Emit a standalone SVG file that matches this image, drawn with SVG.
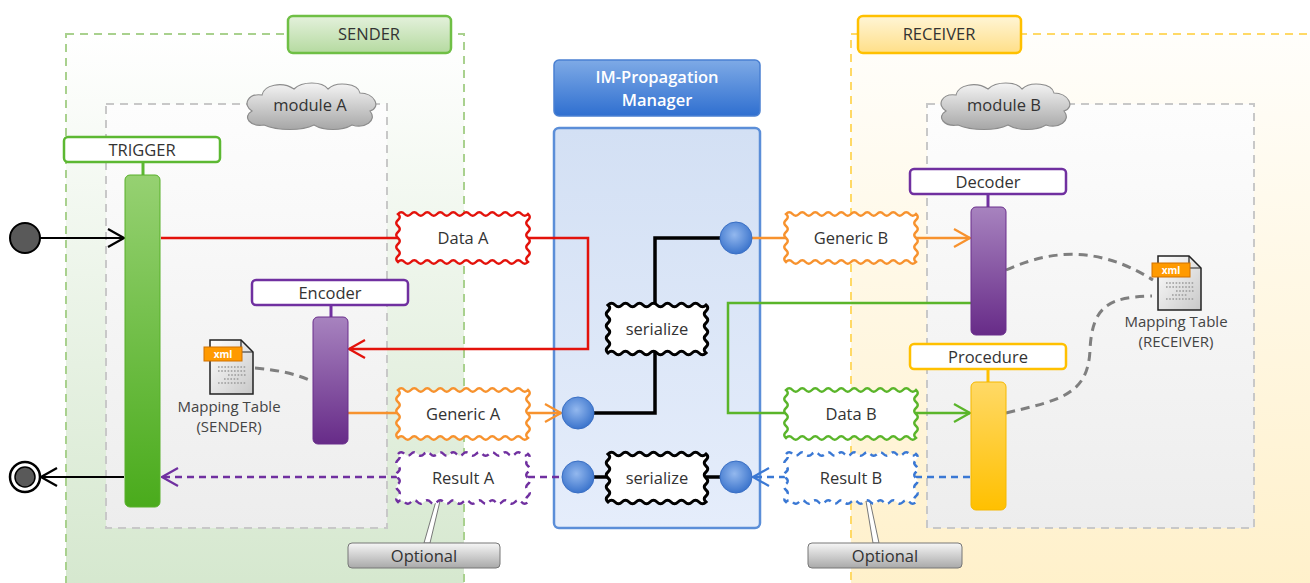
<svg xmlns="http://www.w3.org/2000/svg" width="1310" height="583" viewBox="0 0 1310 583">
<style>
text{font-family:"Open Sans","Noto Sans","Liberation Sans",sans-serif;font-size:16.5px;fill:#333;text-anchor:middle}
.lbl{fill:#fff;stroke-width:2.5}
.wv{fill:#fff;stroke-width:2.5}
.ln{fill:none;stroke-width:2.5}
.dash{stroke-dasharray:7 5}
.map{fill:none;stroke:#7f7f7f;stroke-width:3;stroke-dasharray:9 6}
.small{font-size:15px;fill:#444}
</style>
<defs>
<linearGradient id="gSender" x1="0" y1="0" x2="0" y2="1"><stop offset="0" stop-color="#ffffff"/><stop offset="1" stop-color="#d4e7cd"/></linearGradient>
<linearGradient id="gRecv" x1="0" y1="0" x2="0" y2="1"><stop offset="0" stop-color="#fffefb"/><stop offset="1" stop-color="#fff0c9"/></linearGradient>
<linearGradient id="gMod" x1="0" y1="0" x2="0" y2="1"><stop offset="0" stop-color="#fdfdfd"/><stop offset="1" stop-color="#ededed"/></linearGradient>
<linearGradient id="gSTab" x1="0" y1="0" x2="0" y2="1"><stop offset="0" stop-color="#e4f1dc"/><stop offset="1" stop-color="#b5daa0"/></linearGradient>
<linearGradient id="gRTab" x1="0" y1="0" x2="0" y2="1"><stop offset="0" stop-color="#fff5d6"/><stop offset="1" stop-color="#ffdf88"/></linearGradient>
<linearGradient id="gCloud" x1="0" y1="0" x2="0" y2="1"><stop offset="0" stop-color="#f4f4f4"/><stop offset="1" stop-color="#a6a6a6"/></linearGradient>
<linearGradient id="gTitle" x1="0" y1="0" x2="0" y2="1"><stop offset="0" stop-color="#7eaae6"/><stop offset="1" stop-color="#2f6fd0"/></linearGradient>
<linearGradient id="gMgr" x1="0" y1="0" x2="0" y2="1"><stop offset="0" stop-color="#d3e0f4"/><stop offset="1" stop-color="#e5edfb"/></linearGradient>
<linearGradient id="gGreen" x1="0" y1="0" x2="0" y2="1"><stop offset="0" stop-color="#96d172"/><stop offset="1" stop-color="#4aab1c"/></linearGradient>
<linearGradient id="gPurple" x1="0" y1="0" x2="0" y2="1"><stop offset="0" stop-color="#a783bf"/><stop offset="1" stop-color="#672b88"/></linearGradient>
<linearGradient id="gYellow" x1="0" y1="0" x2="0" y2="1"><stop offset="0" stop-color="#ffd966"/><stop offset="1" stop-color="#ffc000"/></linearGradient>
<linearGradient id="gOpt" x1="0" y1="0" x2="0" y2="1"><stop offset="0" stop-color="#f6f6f6"/><stop offset="1" stop-color="#a9a9a9"/></linearGradient>
<linearGradient id="gPage" x1="0" y1="0" x2="1" y2="1"><stop offset="0" stop-color="#ffffff"/><stop offset="1" stop-color="#c8c8c8"/></linearGradient>
<radialGradient id="gDot" cx="0.45" cy="0.4" r="0.6"><stop offset="0" stop-color="#93b8ee"/><stop offset="1" stop-color="#3b74cc"/></radialGradient>
<path id="wave" d="M0,0 q3.25,-3.5 6.5,0 t6.5,0 t6.5,0 t6.5,0 t6.5,0 t6.5,0 t6.5,0 t6.5,0 t6.5,0 t6.5,0 t6.5,0 t6.5,0 t6.5,0 t6.5,0 t6.5,0 t6.5,0 t6.5,0 t6.5,0 t6.5,0 t6.5,0 q3.5,3 0,6 t0,6 t0,6 t0,6 t0,6 t0,6 t0,6 t0,6 q-3.25,3.5 -6.5,0 t-6.5,0 t-6.5,0 t-6.5,0 t-6.5,0 t-6.5,0 t-6.5,0 t-6.5,0 t-6.5,0 t-6.5,0 t-6.5,0 t-6.5,0 t-6.5,0 t-6.5,0 t-6.5,0 t-6.5,0 t-6.5,0 t-6.5,0 t-6.5,0 t-6.5,0 q-3.5,-3 0,-6 t0,-6 t0,-6 t0,-6 t0,-6 t0,-6 t0,-6 t0,-6 z"/>
<path id="waveS" d="M0,0 q3.5,-3.5 7,0 t7,0 t7,0 t7,0 t7,0 t7,0 t7,0 t7,0 t7,0 t7,0 t7,0 t7,0 t7,0 t7,0 q3.5,3 0,6 t0,6 t0,6 t0,6 t0,6 t0,6 t0,6 t0,6 q-3.5,3.5 -7,0 t-7,0 t-7,0 t-7,0 t-7,0 t-7,0 t-7,0 t-7,0 t-7,0 t-7,0 t-7,0 t-7,0 t-7,0 t-7,0 q-3.5,-3 0,-6 t0,-6 t0,-6 t0,-6 t0,-6 t0,-6 t0,-6 t0,-6 z"/>
<path id="cloud" d="M22,44 C8,46 0,36 10,30 C0,24 6,12 20,14 C22,4 40,0 52,8 C60,0 80,0 86,8 C94,0 116,2 118,12 C132,12 140,26 128,30 C136,40 122,48 110,44 C100,50 82,50 72,44 C60,50 36,50 22,44 Z"/>
<g id="xmldoc">
<path d="M0,0 H31 L43,12 V54 H0 Z" fill="url(#gPage)" stroke="#222" stroke-width="1.5"/>
<path d="M31,0 V12 H43" fill="none" stroke="#222" stroke-width="1.2"/>
<rect x="-6" y="7" width="38" height="14" fill="#ff9a00" stroke="#d07000" stroke-width="1"/>
<text x="13" y="18" style="font-size:10px;font-weight:bold;fill:#fff">xml</text>
<g stroke="#9a9a9a" stroke-width="1.6" stroke-dasharray="1.6 1.6">
<line x1="8" y1="27" x2="36" y2="27"/><line x1="8" y1="31" x2="36" y2="31"/><line x1="18" y1="35" x2="36" y2="35"/><line x1="14" y1="39" x2="30" y2="39"/><line x1="8" y1="43" x2="36" y2="43"/>
</g>
</g>
<marker id="aBlack" viewBox="0 0 18 20" refX="17" refY="10" markerWidth="18" markerHeight="20" markerUnits="userSpaceOnUse" orient="auto"><path d="M1,1 L17,10 L1,19" fill="none" stroke="#000" stroke-width="2.2"/></marker>
<marker id="aRed" viewBox="0 0 18 20" refX="17" refY="10" markerWidth="18" markerHeight="20" markerUnits="userSpaceOnUse" orient="auto"><path d="M1,1 L17,10 L1,19" fill="none" stroke="#e3120b" stroke-width="2.2"/></marker>
<marker id="aOrange" viewBox="0 0 18 20" refX="17" refY="10" markerWidth="18" markerHeight="20" markerUnits="userSpaceOnUse" orient="auto"><path d="M1,1 L17,10 L1,19" fill="none" stroke="#f7922e" stroke-width="2.2"/></marker>
<marker id="aGreen" viewBox="0 0 18 20" refX="17" refY="10" markerWidth="18" markerHeight="20" markerUnits="userSpaceOnUse" orient="auto"><path d="M1,1 L17,10 L1,19" fill="none" stroke="#5ab52a" stroke-width="2.2"/></marker>
<marker id="aPurple" viewBox="0 0 18 20" refX="17" refY="10" markerWidth="18" markerHeight="20" markerUnits="userSpaceOnUse" orient="auto"><path d="M1,1 L17,10 L1,19" fill="none" stroke="#7030a0" stroke-width="2.2"/></marker>
<marker id="aBlue" viewBox="0 0 18 20" refX="17" refY="10" markerWidth="18" markerHeight="20" markerUnits="userSpaceOnUse" orient="auto"><path d="M1,1 L17,10 L1,19" fill="none" stroke="#3a78d4" stroke-width="2.2"/></marker>
</defs>

<rect width="1310" height="583" fill="#fff"/>

<!-- containers -->
<g id="sender">
<rect x="66" y="34" width="398" height="570" fill="url(#gSender)" stroke="#a9d18e" stroke-width="2" stroke-dasharray="8 6"/>
<rect x="288" y="16" width="163" height="37" rx="5" fill="url(#gSTab)" stroke="#6fbf45" stroke-width="2.5"/>
<text x="369" y="40">SENDER</text>
</g>
<g id="receiver">
<rect x="851" y="34" width="480" height="570" fill="url(#gRecv)" stroke="#ffd966" stroke-width="2" stroke-dasharray="8 6"/>
<rect x="858" y="16" width="163" height="37" rx="5" fill="url(#gRTab)" stroke="#ffc000" stroke-width="2.5"/>
<text x="939" y="40">RECEIVER</text>
</g>
<g id="moduleA">
<rect x="106" y="104" width="281" height="424" fill="url(#gMod)" stroke="#c8c8c8" stroke-width="2" stroke-dasharray="8 6"/>
<use href="#cloud" x="242" y="81" fill="url(#gCloud)" stroke="#8c8c8c" stroke-width="1.2"/>
<text x="310" y="111">module A</text>
</g>
<g id="moduleB">
<rect x="927" y="104" width="327" height="424" fill="url(#gMod)" stroke="#c8c8c8" stroke-width="2" stroke-dasharray="8 6"/>
<use href="#cloud" x="936" y="81" fill="url(#gCloud)" stroke="#8c8c8c" stroke-width="1.2"/>
<text x="1004" y="111">module B</text>
</g>
<g id="manager">
<rect x="554" y="60" width="206" height="56" rx="5" fill="url(#gTitle)" stroke="#4a80d2" stroke-width="1.5"/>
<text x="657" y="83" style="fill:#fff;font-weight:600">IM-Propagation</text>
<text x="657" y="106" style="fill:#fff;font-weight:600">Manager</text>
<rect x="554" y="128" width="206" height="400" rx="5" fill="url(#gMgr)" stroke="#5b8ed8" stroke-width="2.5"/>
</g>

<!-- connectors -->
<g id="connectors">
<path class="map" d="M255,368 C280,370 300,375 313,382"/>
<path class="map" d="M1006,270 C1040,255 1090,240 1153,280"/>
<path class="map" d="M1006,413 C1060,400 1088,395 1090,350 C1092,305 1110,297 1152,296"/>
<line x1="40" y1="238" x2="124" y2="238" stroke="#000" stroke-width="2" marker-end="url(#aBlack)"/>
<line x1="124" y1="477" x2="41" y2="477" stroke="#000" stroke-width="2" marker-end="url(#aBlack)"/>
<line class="ln" x1="161" y1="238" x2="398" y2="238" stroke="#e3120b"/>
<polyline class="ln" points="528,238 588,238 588,349 349,349" stroke="#e3120b" marker-end="url(#aRed)"/>
<line class="ln" x1="348" y1="413" x2="398" y2="413" stroke="#f7922e"/>
<line class="ln" x1="528" y1="413" x2="561" y2="413" stroke="#f7922e" marker-end="url(#aOrange)"/>
<line class="ln" x1="752" y1="238" x2="786" y2="238" stroke="#f7922e"/>
<line class="ln" x1="916" y1="238" x2="970" y2="238" stroke="#f7922e" marker-end="url(#aOrange)"/>
<polyline class="ln" points="971,303 728,303 728,413 786,413" stroke="#5ab52a"/>
<line class="ln" x1="916" y1="413" x2="970" y2="413" stroke="#5ab52a" marker-end="url(#aGreen)"/>
<line class="ln dash" x1="398" y1="477" x2="162" y2="477" stroke="#7030a0" marker-end="url(#aPurple)"/>
<line class="ln dash" x1="528" y1="477" x2="562" y2="477" stroke="#7030a0"/>
<line class="ln dash" x1="970" y1="477" x2="916" y2="477" stroke="#3a78d4"/>
<line class="ln dash" x1="786" y1="477" x2="753" y2="477" stroke="#3a78d4" marker-end="url(#aBlue)"/>
<polyline points="720,238 655,238 655,305" fill="none" stroke="#000" stroke-width="3.5"/>
<polyline points="655,352 655,413 594,413" fill="none" stroke="#000" stroke-width="3.5"/>
<line x1="594" y1="477" x2="608" y2="477" stroke="#000" stroke-width="3.5"/>
<line x1="706" y1="477" x2="720" y2="477" stroke="#000" stroke-width="3.5"/>
<line x1="143" y1="162" x2="143" y2="182" stroke="#5cb832" stroke-width="3"/>
<line x1="331" y1="305" x2="331" y2="324" stroke="#7030a0" stroke-width="3"/>
<line x1="988" y1="194" x2="988" y2="214" stroke="#7030a0" stroke-width="3"/>
<line x1="988" y1="369" x2="988" y2="390" stroke="#ffc000" stroke-width="3"/>
<polygon points="424,543 430,543 440,501 436,501" fill="#fff" stroke="#777" stroke-width="1"/>
<polygon points="873,543 879,543 870,501 866,501" fill="#fff" stroke="#777" stroke-width="1"/>
</g>

<!-- terminals -->
<g id="start"><circle cx="25" cy="238" r="15" fill="#595959" stroke="#000" stroke-width="2"/></g>
<g id="end"><circle cx="25" cy="477" r="15" fill="#fff" stroke="#000" stroke-width="2.5"/><circle cx="25" cy="477" r="10" fill="#595959" stroke="#000" stroke-width="1.5"/></g>

<!-- bars and labels -->
<g id="trigger">
<rect x="125" y="175" width="35" height="332" rx="5" fill="url(#gGreen)" stroke="#58b02a" stroke-width="1"/>
<rect x="64" y="137" width="156" height="25" rx="4" class="lbl" stroke="#5cb832"/>
<text x="142" y="156">TRIGGER</text>
</g>
<g id="encoder">
<rect x="313" y="317" width="35" height="127" rx="5" fill="url(#gPurple)" stroke="#6a2e8c" stroke-width="1"/>
<rect x="252" y="280" width="156" height="25" rx="4" class="lbl" stroke="#7030a0"/>
<text x="330" y="299">Encoder</text>
</g>
<g id="decoder">
<rect x="971" y="207" width="35" height="128" rx="5" fill="url(#gPurple)" stroke="#6a2e8c" stroke-width="1"/>
<rect x="910" y="169" width="156" height="25" rx="4" class="lbl" stroke="#7030a0"/>
<text x="988" y="188">Decoder</text>
</g>
<g id="procedure">
<rect x="971" y="382" width="35" height="128" rx="5" fill="url(#gYellow)" stroke="#f5b800" stroke-width="1"/>
<rect x="910" y="344" width="156" height="25" rx="4" class="lbl" stroke="#ffc000"/>
<text x="988" y="363">Procedure</text>
</g>

<!-- data boxes -->
<g id="dataA"><use href="#wave" x="398" y="214" class="wv" stroke="#e3120b"/><text x="463" y="244">Data A</text></g>
<g id="genericA"><use href="#wave" x="398" y="390" class="wv" stroke="#f7922e"/><text x="463" y="420">Generic A</text></g>
<g id="resultA"><use href="#wave" x="398" y="454" class="wv dash" stroke="#7030a0"/><text x="463" y="484">Result A</text></g>
<g id="genericB"><use href="#wave" x="786" y="214" class="wv" stroke="#f7922e"/><text x="851" y="244">Generic B</text></g>
<g id="dataB"><use href="#wave" x="786" y="390" class="wv" stroke="#5ab52a"/><text x="851" y="420">Data B</text></g>
<g id="resultB"><use href="#wave" x="786" y="454" class="wv dash" stroke="#3a78d4"/><text x="851" y="484">Result B</text></g>
<g id="serialize1"><use href="#waveS" x="608" y="305" class="wv" stroke="#000" style="stroke-width:3"/><text x="657" y="335">serialize</text></g>
<g id="serialize2"><use href="#waveS" x="608" y="454" class="wv" stroke="#000" style="stroke-width:3"/><text x="657" y="484">serialize</text></g>

<!-- ports -->
<g id="ports" fill="url(#gDot)" stroke="#3a6fc4" stroke-width="1">
<circle cx="736" cy="238" r="16"/>
<circle cx="578" cy="413" r="16"/>
<circle cx="578" cy="477" r="16"/>
<circle cx="736" cy="477" r="16"/>
</g>

<!-- mapping tables -->
<g id="mapSender"><use href="#xmldoc" x="210" y="340"/><text x="229" y="412" class="small">Mapping Table</text><text x="229" y="432" class="small">(SENDER)</text></g>
<g id="mapReceiver"><use href="#xmldoc" x="1158" y="256"/><text x="1176" y="327" class="small">Mapping Table</text><text x="1176" y="347" class="small">(RECEIVER)</text></g>

<!-- optional -->
<g id="optA"><rect x="348" y="543" width="152" height="25" rx="4" fill="url(#gOpt)" stroke="#777" stroke-width="1"/><text x="424" y="562">Optional</text></g>
<g id="optB"><rect x="808" y="543" width="154" height="25" rx="4" fill="url(#gOpt)" stroke="#777" stroke-width="1"/><text x="885" y="562">Optional</text></g>
</svg>
